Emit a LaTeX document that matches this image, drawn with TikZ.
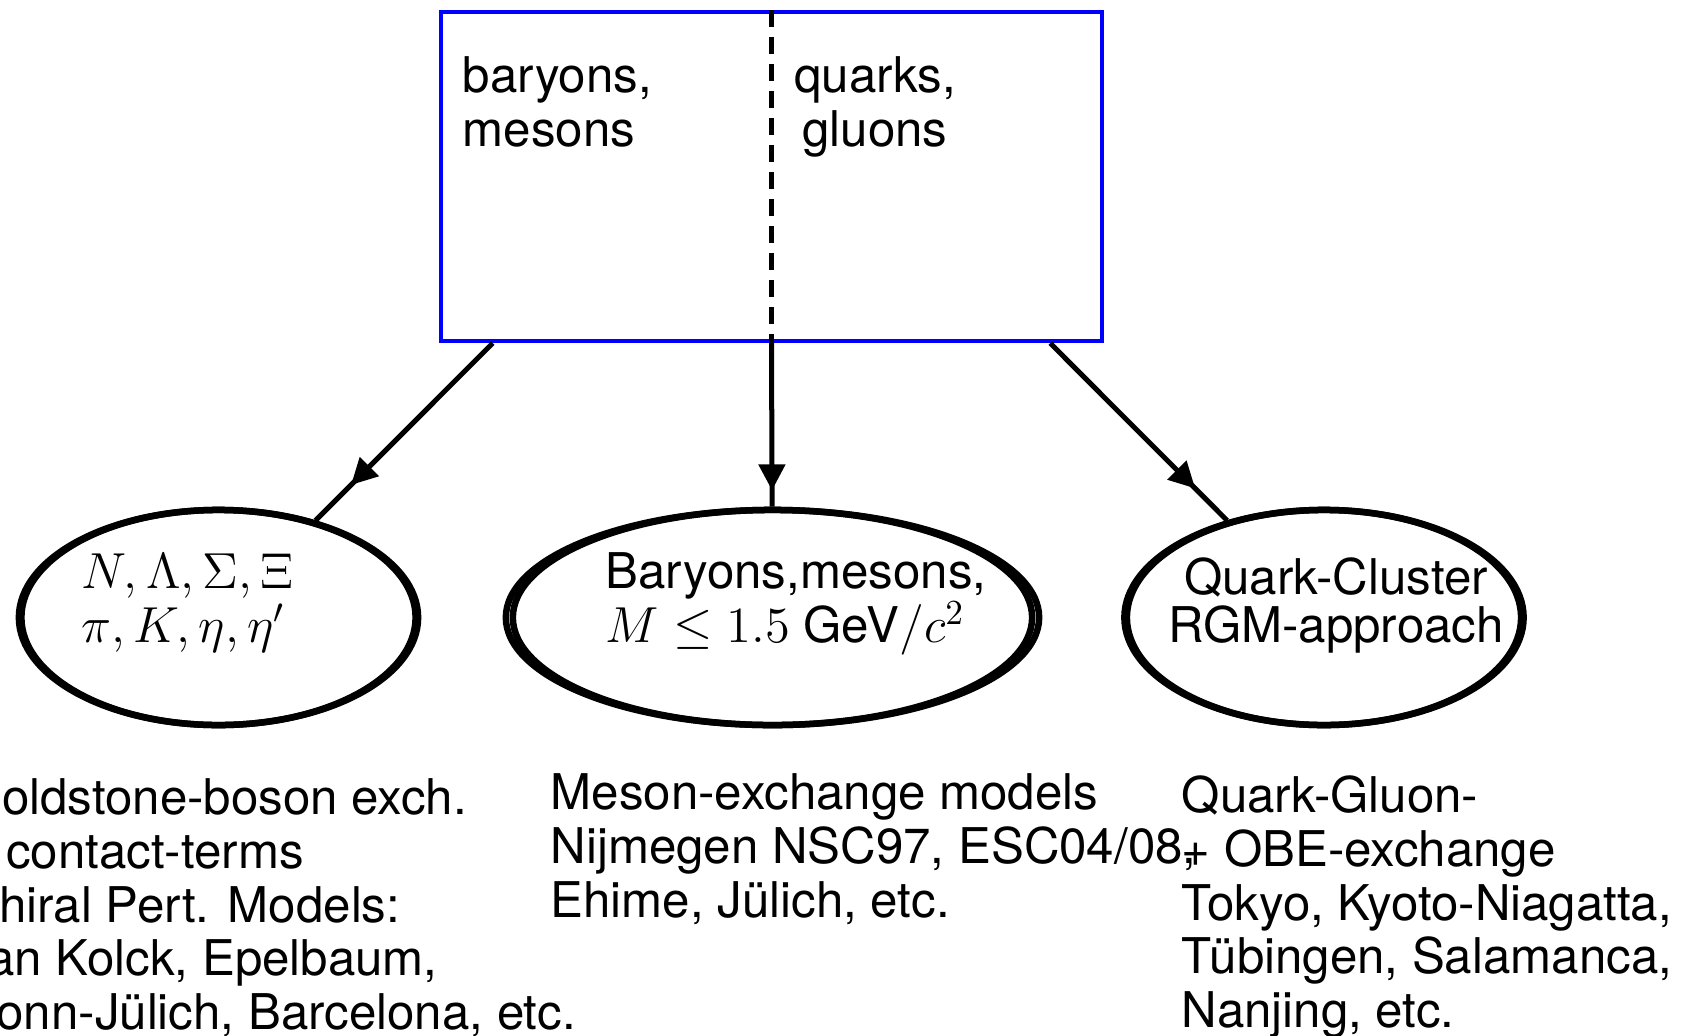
\documentclass[tikz,border=0pt]{standalone}
\usepackage[no-math]{fontspec}
\newfontfamily\heros{TeX Gyre Heros}
\usetikzlibrary{shapes.geometric,arrows.meta,decorations.markings}

\begin{document}
\begin{tikzpicture}[x=0.01cm,y=-0.01cm,font=\heros\fontsize{14}{15.3}\selectfont]
  \tikzstyle{frame}=[draw=blue,line width=0.04cm,minimum width=6.61cm,minimum height=3.29cm,inner sep=0pt]
  \tikzstyle{model}=[ellipse,draw,line width=0.065cm,minimum height=2.15cm,inner sep=0pt]
  \tikzstyle{edge}=[draw,line width=0.05cm]
  \tikzstyle{txt}=[inner sep=0pt,align=left]
  \tikzset{tipat/.style={postaction={decorate,decoration={markings,
      mark=at position #1 with {\arrow{Triangle[length=0.26cm,width=0.26cm]}}}}}}

  \path[use as bounding box,clip] (0,0) rectangle (1684,1036);

  \begin{scope}
    % degrees of freedom
    \node [frame] (dof) at (771.5,176.5) {};
    \draw [line width=0.045cm,dash pattern=on 0.17cm off 0.1cm] (dof.north) -- (dof.south);
    \node [txt,anchor=north west] (had) at (462,56) {baryons,\\mesons};
    \node [txt,anchor=north,align=center] (qg) at (875,56) {quarks,\\gluons};

    % the three model classes
    \node [model,minimum width=3.94cm] (eft) at (218.5,617.5) {};
    \node [model,minimum width=5.19cm] (obe) at (772.5,617.5) {};
    \node [model,minimum width=3.94cm] (qcm) at (1324,617.5) {};
    % heavier pen on the sides
    \draw [line width=0.065cm] (eft.center) ellipse [x radius=1.995cm,y radius=1.075cm];
    \draw [line width=0.065cm] (obe.center) ellipse [x radius=2.665cm,y radius=1.075cm];
    \draw [line width=0.065cm] (qcm.center) ellipse [x radius=1.995cm,y radius=1.075cm];

    \path[edge,tipat=0.8] ([xshift=0.54cm]dof.south west) -- (eft);
    \path[edge,tipat=0.9] (dof.south) -- (obe);
    \path[edge,tipat=0.82] ([xshift=-0.54cm]dof.south east) -- (qcm);

    \node [txt,anchor=north west] (eftlbl) at (81,553) {$N,\Lambda,\Sigma,\Xi$\\$\pi,K,\eta,\eta'$};
    \node [txt,anchor=north west] (obelbl) at (605,552) {Baryons,mesons,\\$M\leq 1.5$ GeV$/c^2$};
    \node [txt,anchor=north,align=center,font=\heros\fontsize{14}{13.6}\selectfont] (qcmlbl) at (1336,557) {Quark-Cluster\\RGM-approach};

    % who does what
    \node [txt,anchor=north west] (eftref) at (-37,777) {Goldstone-boson exch.\\+ contact-terms\\Chiral Pert. Models:\\van Kolck, Epelbaum,\\Bonn-Jülich, Barcelona, etc.};
    \node [txt,anchor=north west] (oberef) at (550,773) {Meson-exchange models\\Nijmegen NSC97, ESC04/08,\\Ehime, Jülich, etc.};
    \node [txt,anchor=north west] (qcmref) at (1181,775) {Quark-Gluon-\\+ OBE-exchange\\Tokyo, Kyoto-Niagatta,\\Tübingen, Salamanca,\\Nanjing, etc.};
  \end{scope}
\end{tikzpicture}
\end{document}
